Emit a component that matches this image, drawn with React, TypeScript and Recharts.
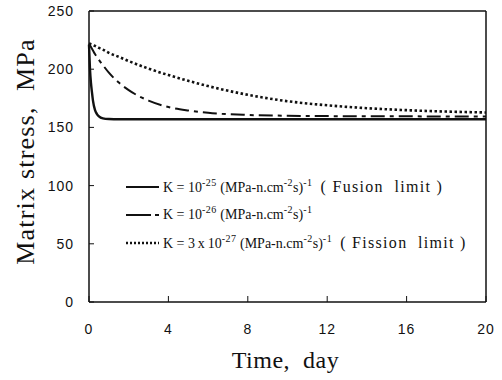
import React from 'react';
import { LineChart, Line, XAxis, YAxis, Legend, Label } from 'recharts';

const times = [0, 0.05, 0.1, 0.15, 0.2, 0.3, 0.4, 0.5, 0.7, 1, 1.5, 2, 3, 4, 5, 6, 8, 10, 12, 14, 16, 18, 20];
const fusionLimit = [221, 200, 188, 180, 173, 165, 161.5, 159.5, 157.8, 157.2, 157, 157, 157, 157, 157, 157, 157, 157, 157, 157, 157, 157, 157];
const midK = [222, 220.5, 219, 217.5, 216, 213, 210.5, 208, 203.5, 197, 188.5, 182, 173, 167.5, 164.5, 162.5, 160.7, 160, 159.7, 159.6, 159.5, 159.4, 159.3];
const fissionLimit = [222, 221.8, 221.5, 221.2, 220.8, 220, 219.2, 218.3, 216.8, 214, 210.6, 207, 200.5, 195, 190, 185.5, 178, 172.5, 169, 166.5, 164.8, 163.6, 162.8];

const xTicks = [0, 4, 8, 12, 16, 20];
const xMinorTicks = [0, 1, 2, 3, 4, 5, 6, 7, 8, 9, 10, 11, 12, 13, 14, 15, 16, 17, 18, 19, 20];
const yTicks = [0, 50, 100, 150, 200, 250];

const data = times.map((t, i) => ({ t, a: fusionLimit[i], b: midK[i], c: fissionLimit[i] }));

const serif = '"Liberation Serif", "Times New Roman", serif';
const sans = '"Liberation Sans", Arial, sans-serif';

const supStyle: React.CSSProperties = { fontSize: 10, verticalAlign: 'super', lineHeight: 0, letterSpacing: 0.5 };
const noteStyle: React.CSSProperties = { fontSize: 16, letterSpacing: 1.3, marginLeft: 8 };

const Units = () => (
  <span>
    (MPa-n.cm<span style={supStyle}>-2</span>s)<span style={supStyle}>-1</span>
  </span>
);

const renderLegend = () => {
  const rows = [
    {
      dash: undefined as string | undefined,
      w: 2.2,
      text: (
        <span>
          K = 10<span style={supStyle}>-25</span> <Units />
          <span style={noteStyle}>( Fusion{'\u00a0 '}limit )</span>
        </span>
      ),
    },
    {
      dash: '25 4 5 40',
      w: 1.8,
      text: (
        <span>
          K = 10<span style={supStyle}>-26</span> <Units />
        </span>
      ),
    },
    {
      dash: '2 2',
      w: 2.5,
      text: (
        <span>
          K = 3{'\u2009'}x{'\u2009'}10<span style={supStyle}>-27</span> <Units />
          <span style={noteStyle}>( Fission{'\u00a0 '}limit )</span>
        </span>
      ),
    },
  ];
  return (
    <div style={{ fontFamily: serif, fontSize: 14, color: '#111' }}>
      {rows.map((r, i) => (
        <div key={i} style={{ display: 'flex', alignItems: 'center', height: 28, whiteSpace: 'nowrap' }}>
          <svg width={37} height={10} style={{ display: 'block' }}>
            <line x1={0} y1={5} x2={33} y2={5} stroke="#111" strokeWidth={r.w} strokeDasharray={r.dash} />
          </svg>
          {r.text}
        </div>
      ))}
    </div>
  );
};

const YLabel = (props: any) => {
  const vb = props.viewBox;
  const cx = vb.x + 25;
  const cy = vb.y + vb.height / 2 - 5;
  return (
    <text x={cx} y={cy} transform={`rotate(-90 ${cx} ${cy})`} textAnchor="middle" dominantBaseline="central"
      style={{ fontFamily: serif, fontSize: 26, fill: '#111', letterSpacing: 1.2 }}>
      Matrix stress,{'\u00a0\u00a0'}MPa
    </text>
  );
};

const XLabel = (props: any) => {
  const vb = props.viewBox;
  const cx = vb.x + vb.width / 2 - 2;
  const cy = vb.y + 66;
  return (
    <text x={cx} y={cy} textAnchor="middle" style={{ fontFamily: serif, fontSize: 24, fill: '#111', letterSpacing: 0.5 }}>
      Time,{'\u00a0\u00a0'}day
    </text>
  );
};

export default function App() {
  return (
    <div style={{ position: 'absolute', left: 0, top: 0, background: '#fff' }}>
      <LineChart width={502} height={380} data={data} margin={{ top: 10, right: 15, bottom: 0, left: 0 }}>
        <XAxis dataKey="t" type="number" domain={[0, 20]} ticks={xTicks} height={78}
          axisLine={{ stroke: '#111', strokeWidth: 1.5 }} tickLine={{ stroke: '#111' }} tickSize={-6} tickMargin={28}
          tick={{ fontFamily: sans, fontSize: 14, fill: '#111', letterSpacing: 1 }}>
          <Label content={XLabel} />
        </XAxis>
        <XAxis xAxisId="minor" dataKey="t" type="number" domain={[0, 20]} ticks={xMinorTicks} height={0}
          axisLine={false} tickLine={{ stroke: '#111' }} tickSize={-3} tick={false} />
        <XAxis xAxisId="top" orientation="top" dataKey="t" type="number" domain={[0, 20]} height={1}
          axisLine={{ stroke: '#111', strokeWidth: 1.5 }} tickLine={false} tick={false} />
        <YAxis type="number" domain={[0, 250]} ticks={yTicks} width={89}
          axisLine={{ stroke: '#111', strokeWidth: 1.5 }} tickLine={{ stroke: '#111' }} tickSize={-5} tickMargin={20}
          tick={{ fontFamily: sans, fontSize: 14, fill: '#111', letterSpacing: 1 }}>
          <Label content={YLabel} />
        </YAxis>
        <YAxis yAxisId="right" orientation="right" type="number" domain={[0, 250]} width={1}
          axisLine={{ stroke: '#111', strokeWidth: 1.5 }} tickLine={false} tick={false} />
        <Legend layout="horizontal" verticalAlign="middle" align="center" content={renderLegend}
          wrapperStyle={{ left: 126, top: 173, width: 370 }} />
        <Line type="monotone" dataKey="a" stroke="#111" strokeWidth={2.4} dot={false} isAnimationActive={false} />
        <Line type="monotone" dataKey="b" stroke="#111" strokeWidth={2} strokeDasharray="14 5 4 5" dot={false} isAnimationActive={false} />
        <Line type="monotone" dataKey="c" stroke="#111" strokeWidth={2.6} strokeDasharray="2.5 2.5" dot={false} isAnimationActive={false} />
      </LineChart>
    </div>
  );
}
